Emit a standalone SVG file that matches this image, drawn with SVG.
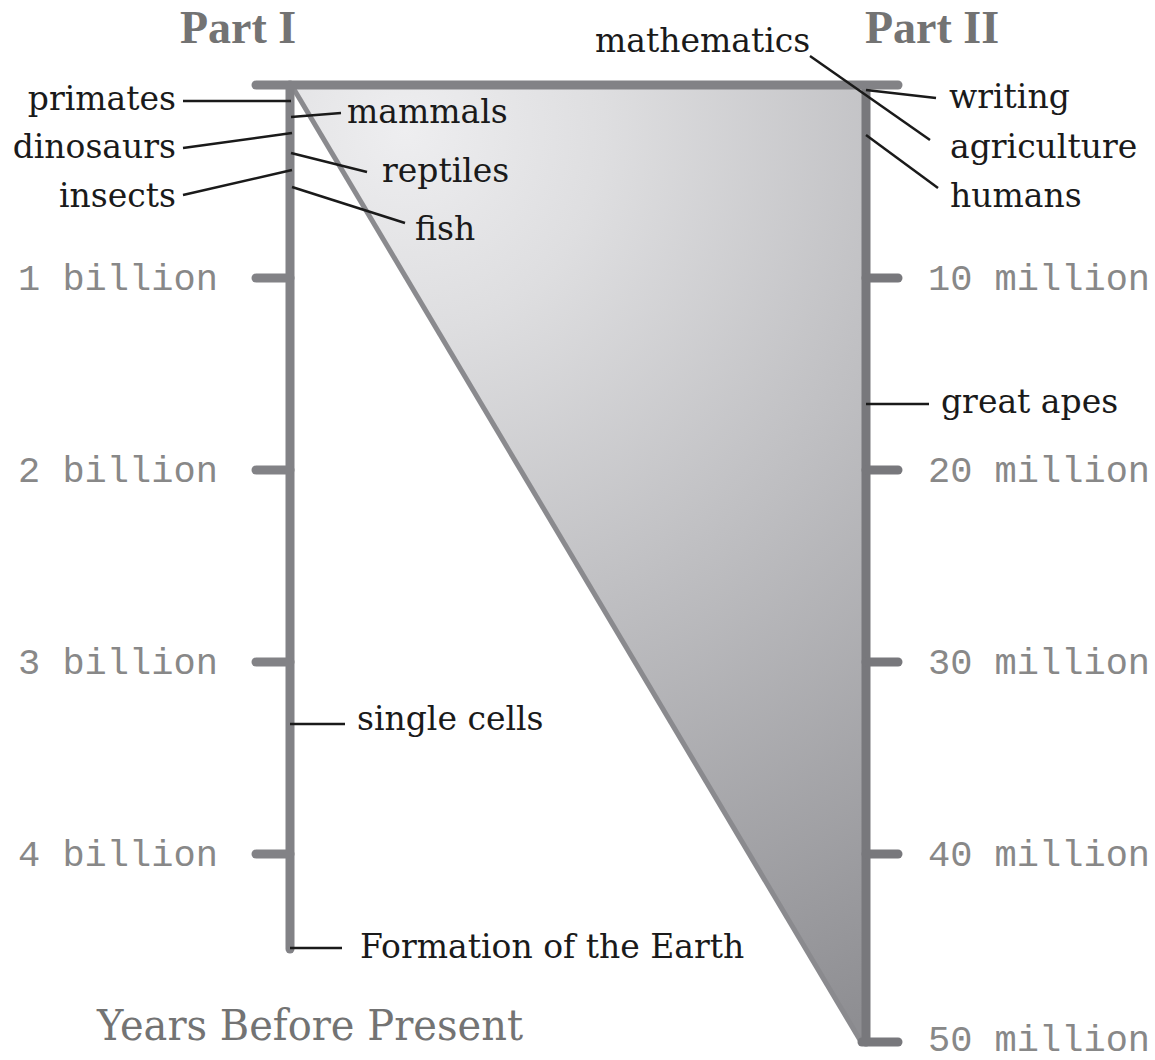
<svg xmlns="http://www.w3.org/2000/svg" width="1155" height="1060" viewBox="0 0 1155 1060">
<defs>
<radialGradient id="fade" gradientUnits="userSpaceOnUse" cx="405" cy="130" r="1000">
<stop offset="0" stop-color="#eeeef0"/>
<stop offset="0.2" stop-color="#dedee0"/>
<stop offset="0.5" stop-color="#c0c0c3"/>
<stop offset="0.9" stop-color="#98989c"/>
<stop offset="1" stop-color="#8e8e92"/>
</radialGradient>
</defs>
<style>
.axis{stroke:#828286;stroke-width:9;stroke-linecap:round;fill:none}
.axisR{stroke:#78787c;stroke-width:9;stroke-linecap:round;fill:none}
.conn{stroke:#1a1a1a;stroke-width:2.5;fill:none}
.lbl{font-family:"DejaVu Serif","Liberation Serif",serif;font-size:33px;fill:#1a1a1a}
.tick{font-family:"Liberation Mono","DejaVu Sans Mono",monospace;font-size:37px;fill:#888888}
.part{font-family:"Liberation Serif",serif;font-weight:bold;font-size:46px;fill:#737373}
.title{font-family:"DejaVu Serif","Liberation Serif",serif;font-size:42px;fill:#737373}
</style>
<g id="wedge">
<polygon points="292,86 862,86 862,1042" fill="url(#fade)"/>
<line x1="292" y1="86" x2="860" y2="1040" stroke="#8a8a8e" stroke-width="5"/>
</g>
<g id="axis-left">
<line class="axis" x1="290" y1="85" x2="290" y2="949"/>
<line class="axis" x1="256" y1="278" x2="290" y2="278"/>
<line class="axis" x1="256" y1="470" x2="290" y2="470"/>
<line class="axis" x1="256" y1="662" x2="290" y2="662"/>
<line class="axis" x1="256" y1="854" x2="290" y2="854"/>
</g>
<g id="axis-right">
<line class="axisR" x1="866" y1="88" x2="866" y2="1042"/>
<line class="axisR" x1="866" y1="278" x2="898" y2="278"/>
<line class="axisR" x1="866" y1="470" x2="898" y2="470"/>
<line class="axisR" x1="866" y1="662" x2="898" y2="662"/>
<line class="axisR" x1="866" y1="854" x2="898" y2="854"/>
<line class="axisR" x1="862" y1="1042" x2="898" y2="1042"/>
</g>
<g id="top-bar">
<line class="axis" x1="256" y1="85" x2="898" y2="85"/>
</g>
<g id="connectors">
<line class="conn" x1="183" y1="101" x2="291" y2="101"/>
<line class="conn" x1="291" y1="117" x2="341" y2="113"/>
<line class="conn" x1="183" y1="148" x2="292" y2="133"/>
<line class="conn" x1="291" y1="153" x2="367" y2="172"/>
<line class="conn" x1="183" y1="195" x2="292" y2="170"/>
<line class="conn" x1="292" y1="187" x2="405" y2="223"/>
<line class="conn" x1="290" y1="724" x2="345" y2="724"/>
<line class="conn" x1="290" y1="948" x2="342" y2="948"/>
<line class="conn" x1="810" y1="56" x2="930" y2="140"/>
<line class="conn" x1="866" y1="90" x2="936" y2="98"/>
<line class="conn" x1="866" y1="135" x2="938" y2="188"/>
<line class="conn" x1="866" y1="404" x2="929" y2="404"/>
</g>
<g id="headings">
<text class="part" x="180" y="43">Part I</text>
<text class="part" x="865" y="43">Part II</text>
<text class="title" x="97" y="1040" textLength="426" lengthAdjust="spacingAndGlyphs">Years Before Present</text>
</g>
<g id="tick-labels">
<text class="tick" x="18" y="290">1 billion</text>
<text class="tick" x="18" y="482">2 billion</text>
<text class="tick" x="18" y="674">3 billion</text>
<text class="tick" x="18" y="866">4 billion</text>
<text class="tick" x="928" y="290">10 million</text>
<text class="tick" x="928" y="482">20 million</text>
<text class="tick" x="928" y="674">30 million</text>
<text class="tick" x="928" y="866">40 million</text>
<text class="tick" x="928" y="1051">50 million</text>
</g>
<g id="node-primates"><text class="lbl" x="176" y="110" text-anchor="end">primates</text></g>
<g id="node-dinosaurs"><text class="lbl" x="176" y="158" text-anchor="end">dinosaurs</text></g>
<g id="node-insects"><text class="lbl" x="176" y="207" text-anchor="end">insects</text></g>
<g id="node-mammals"><text class="lbl" x="347" y="123">mammals</text></g>
<g id="node-reptiles"><text class="lbl" x="382" y="182">reptiles</text></g>
<g id="node-fish"><text class="lbl" x="415" y="240">fish</text></g>
<g id="node-single-cells"><text class="lbl" x="357" y="730">single cells</text></g>
<g id="node-formation"><text class="lbl" x="360" y="958">Formation of the Earth</text></g>
<g id="node-mathematics"><text class="lbl" x="595" y="52">mathematics</text></g>
<g id="node-writing"><text class="lbl" x="949" y="108">writing</text></g>
<g id="node-agriculture"><text class="lbl" x="950" y="158">agriculture</text></g>
<g id="node-humans"><text class="lbl" x="950" y="207">humans</text></g>
<g id="node-great-apes"><text class="lbl" x="941" y="413">great apes</text></g>
</svg>
